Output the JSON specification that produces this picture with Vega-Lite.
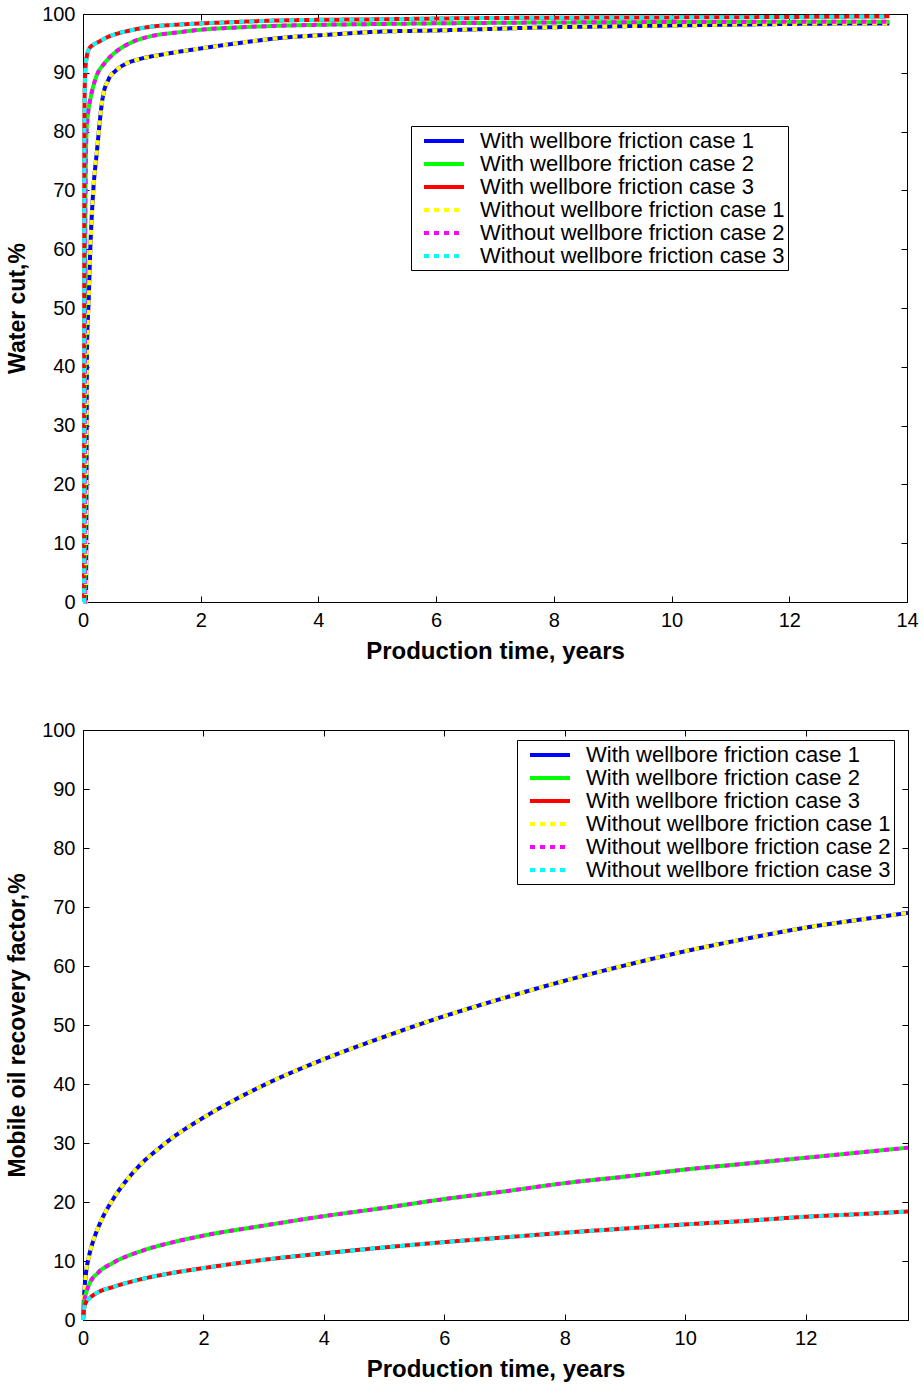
{
  "$schema": "https://vega.github.io/schema/vega-lite/v6.json",
  "background": "white",
  "padding": {"left": 6, "top": 3, "right": 12, "bottom": 5},
  "config": {
    "view": {"stroke": "black", "strokeWidth": 1},
    "axis": {"domainColor": "black", "tickColor": "black", "tickSize": -6, "labelPadding": 14, "labelFontSize": 20, "labelFont": "Liberation Sans", "labelColor": "black", "titleFont": "Liberation Sans", "titleFontSize": 24, "titleFontWeight": "bold", "titleColor": "black", "grid": false, "labelFlush": false, "labelOverlap": false},
    "legend": {"symbolType": "M-2,0H2", "symbolSize": 400, "symbolStrokeWidth": 4, "labelFont": "Liberation Sans", "labelFontSize": 22, "labelLimit": 0, "labelColor": "black", "strokeColor": "black", "fillColor": "white", "padding": 3, "rowPadding": -1, "symbolOffset": 18, "labelOffset": 24, "cornerRadius": 0}
  },
  "datasets": {
    "wc": [
      {"series":"With wellbore friction case 1","t":0,"v":0},{"series":"With wellbore friction case 1","t":0.05,"v":0},{"series":"With wellbore friction case 1","t":0.06,"v":20},{"series":"With wellbore friction case 1","t":0.068,"v":43},{"series":"With wellbore friction case 1","t":0.097,"v":51.5},{"series":"With wellbore friction case 1","t":0.124,"v":60},{"series":"With wellbore friction case 1","t":0.165,"v":68.5},{"series":"With wellbore friction case 1","t":0.24,"v":77},{"series":"With wellbore friction case 1","t":0.33,"v":85.5},{"series":"With wellbore friction case 1","t":0.44,"v":89},{"series":"With wellbore friction case 1","t":0.55,"v":90.3},{"series":"With wellbore friction case 1","t":0.72,"v":91.5},{"series":"With wellbore friction case 1","t":0.95,"v":92.3},{"series":"With wellbore friction case 1","t":1.4,"v":93.2},{"series":"With wellbore friction case 1","t":1.97,"v":94.1},{"series":"With wellbore friction case 1","t":2.53,"v":94.9},{"series":"With wellbore friction case 1","t":3.33,"v":95.9},{"series":"With wellbore friction case 1","t":4.2,"v":96.5},{"series":"With wellbore friction case 1","t":5.03,"v":97.0},{"series":"With wellbore friction case 1","t":6,"v":97.2},{"series":"With wellbore friction case 1","t":6.72,"v":97.4},{"series":"With wellbore friction case 1","t":7.74,"v":97.7},{"series":"With wellbore friction case 1","t":9,"v":97.9},{"series":"With wellbore friction case 1","t":10,"v":98.05},{"series":"With wellbore friction case 1","t":11.14,"v":98.2},{"series":"With wellbore friction case 1","t":12.5,"v":98.35},{"series":"With wellbore friction case 1","t":13.7,"v":98.4},
      {"series":"With wellbore friction case 2","t":0,"v":0},{"series":"With wellbore friction case 2","t":0.03,"v":0},{"series":"With wellbore friction case 2","t":0.033,"v":35},{"series":"With wellbore friction case 2","t":0.037,"v":60},{"series":"With wellbore friction case 2","t":0.045,"v":72},{"series":"With wellbore friction case 2","t":0.06,"v":80},{"series":"With wellbore friction case 2","t":0.09,"v":83.5},{"series":"With wellbore friction case 2","t":0.13,"v":85.8},{"series":"With wellbore friction case 2","t":0.21,"v":88.9},{"series":"With wellbore friction case 2","t":0.38,"v":91.8},{"series":"With wellbore friction case 2","t":0.55,"v":93.5},{"series":"With wellbore friction case 2","t":0.83,"v":95.2},{"series":"With wellbore friction case 2","t":1.1,"v":96.1},{"series":"With wellbore friction case 2","t":1.63,"v":96.9},{"series":"With wellbore friction case 2","t":1.97,"v":97.3},{"series":"With wellbore friction case 2","t":2.6,"v":97.7},{"series":"With wellbore friction case 2","t":3.33,"v":98.0},{"series":"With wellbore friction case 2","t":5.03,"v":98.3},{"series":"With wellbore friction case 2","t":7,"v":98.5},{"series":"With wellbore friction case 2","t":9,"v":98.6},{"series":"With wellbore friction case 2","t":11,"v":98.65},{"series":"With wellbore friction case 2","t":13.7,"v":98.7},
      {"series":"With wellbore friction case 3","t":0,"v":0},{"series":"With wellbore friction case 3","t":0.018,"v":0},{"series":"With wellbore friction case 3","t":0.02,"v":40},{"series":"With wellbore friction case 3","t":0.022,"v":75},{"series":"With wellbore friction case 3","t":0.026,"v":85},{"series":"With wellbore friction case 3","t":0.035,"v":89.5},{"series":"With wellbore friction case 3","t":0.06,"v":92.5},{"series":"With wellbore friction case 3","t":0.1,"v":94},{"series":"With wellbore friction case 3","t":0.18,"v":94.8},{"series":"With wellbore friction case 3","t":0.27,"v":95.3},{"series":"With wellbore friction case 3","t":0.4,"v":96},{"series":"With wellbore friction case 3","t":0.56,"v":96.6},{"series":"With wellbore friction case 3","t":0.8,"v":97.2},{"series":"With wellbore friction case 3","t":1.12,"v":97.8},{"series":"With wellbore friction case 3","t":1.63,"v":98.2},{"series":"With wellbore friction case 3","t":2.5,"v":98.6},{"series":"With wellbore friction case 3","t":3.33,"v":98.9},{"series":"With wellbore friction case 3","t":5.03,"v":99.1},{"series":"With wellbore friction case 3","t":6.72,"v":99.3},{"series":"With wellbore friction case 3","t":9,"v":99.4},{"series":"With wellbore friction case 3","t":11,"v":99.45},{"series":"With wellbore friction case 3","t":13.7,"v":99.6},
      {"series":"Without wellbore friction case 1","t":0,"v":0},{"series":"Without wellbore friction case 1","t":0.05,"v":0},{"series":"Without wellbore friction case 1","t":0.06,"v":20},{"series":"Without wellbore friction case 1","t":0.068,"v":43},{"series":"Without wellbore friction case 1","t":0.097,"v":51.5},{"series":"Without wellbore friction case 1","t":0.124,"v":60},{"series":"Without wellbore friction case 1","t":0.165,"v":68.5},{"series":"Without wellbore friction case 1","t":0.24,"v":77},{"series":"Without wellbore friction case 1","t":0.33,"v":85.5},{"series":"Without wellbore friction case 1","t":0.44,"v":89},{"series":"Without wellbore friction case 1","t":0.55,"v":90.3},{"series":"Without wellbore friction case 1","t":0.72,"v":91.5},{"series":"Without wellbore friction case 1","t":0.95,"v":92.3},{"series":"Without wellbore friction case 1","t":1.4,"v":93.2},{"series":"Without wellbore friction case 1","t":1.97,"v":94.1},{"series":"Without wellbore friction case 1","t":2.53,"v":94.9},{"series":"Without wellbore friction case 1","t":3.33,"v":95.9},{"series":"Without wellbore friction case 1","t":4.2,"v":96.5},{"series":"Without wellbore friction case 1","t":5.03,"v":97.0},{"series":"Without wellbore friction case 1","t":6,"v":97.2},{"series":"Without wellbore friction case 1","t":6.72,"v":97.4},{"series":"Without wellbore friction case 1","t":7.74,"v":97.7},{"series":"Without wellbore friction case 1","t":9,"v":97.9},{"series":"Without wellbore friction case 1","t":10,"v":98.05},{"series":"Without wellbore friction case 1","t":11.14,"v":98.2},{"series":"Without wellbore friction case 1","t":12.5,"v":98.35},{"series":"Without wellbore friction case 1","t":13.7,"v":98.4},
      {"series":"Without wellbore friction case 2","t":0,"v":0},{"series":"Without wellbore friction case 2","t":0.03,"v":0},{"series":"Without wellbore friction case 2","t":0.033,"v":35},{"series":"Without wellbore friction case 2","t":0.037,"v":60},{"series":"Without wellbore friction case 2","t":0.045,"v":72},{"series":"Without wellbore friction case 2","t":0.06,"v":80},{"series":"Without wellbore friction case 2","t":0.09,"v":83.5},{"series":"Without wellbore friction case 2","t":0.13,"v":85.8},{"series":"Without wellbore friction case 2","t":0.21,"v":88.9},{"series":"Without wellbore friction case 2","t":0.38,"v":91.8},{"series":"Without wellbore friction case 2","t":0.55,"v":93.5},{"series":"Without wellbore friction case 2","t":0.83,"v":95.2},{"series":"Without wellbore friction case 2","t":1.1,"v":96.1},{"series":"Without wellbore friction case 2","t":1.63,"v":96.9},{"series":"Without wellbore friction case 2","t":1.97,"v":97.3},{"series":"Without wellbore friction case 2","t":2.6,"v":97.7},{"series":"Without wellbore friction case 2","t":3.33,"v":98.0},{"series":"Without wellbore friction case 2","t":5.03,"v":98.3},{"series":"Without wellbore friction case 2","t":7,"v":98.5},{"series":"Without wellbore friction case 2","t":9,"v":98.6},{"series":"Without wellbore friction case 2","t":11,"v":98.65},{"series":"Without wellbore friction case 2","t":13.7,"v":98.7},
      {"series":"Without wellbore friction case 3","t":0,"v":0},{"series":"Without wellbore friction case 3","t":0.018,"v":0},{"series":"Without wellbore friction case 3","t":0.02,"v":40},{"series":"Without wellbore friction case 3","t":0.022,"v":75},{"series":"Without wellbore friction case 3","t":0.026,"v":85},{"series":"Without wellbore friction case 3","t":0.035,"v":89.5},{"series":"Without wellbore friction case 3","t":0.06,"v":92.5},{"series":"Without wellbore friction case 3","t":0.1,"v":94},{"series":"Without wellbore friction case 3","t":0.18,"v":94.8},{"series":"Without wellbore friction case 3","t":0.27,"v":95.3},{"series":"Without wellbore friction case 3","t":0.4,"v":96},{"series":"Without wellbore friction case 3","t":0.56,"v":96.6},{"series":"Without wellbore friction case 3","t":0.8,"v":97.2},{"series":"Without wellbore friction case 3","t":1.12,"v":97.8},{"series":"Without wellbore friction case 3","t":1.63,"v":98.2},{"series":"Without wellbore friction case 3","t":2.5,"v":98.6},{"series":"Without wellbore friction case 3","t":3.33,"v":98.9},{"series":"Without wellbore friction case 3","t":5.03,"v":99.1},{"series":"Without wellbore friction case 3","t":6.72,"v":99.3},{"series":"Without wellbore friction case 3","t":9,"v":99.4},{"series":"Without wellbore friction case 3","t":11,"v":99.45},{"series":"Without wellbore friction case 3","t":13.7,"v":99.6}
    ],
    "rf": [
      {"series":"With wellbore friction case 1","t":0,"v":0},{"series":"With wellbore friction case 1","t":0.02,"v":4.5},{"series":"With wellbore friction case 1","t":0.05,"v":8},{"series":"With wellbore friction case 1","t":0.1,"v":10.8},{"series":"With wellbore friction case 1","t":0.2,"v":14.3},{"series":"With wellbore friction case 1","t":0.3,"v":16.8},{"series":"With wellbore friction case 1","t":0.5,"v":20.5},{"series":"With wellbore friction case 1","t":0.75,"v":24},{"series":"With wellbore friction case 1","t":1,"v":26.8},{"series":"With wellbore friction case 1","t":1.25,"v":29},{"series":"With wellbore friction case 1","t":1.5,"v":31},{"series":"With wellbore friction case 1","t":2,"v":34.3},{"series":"With wellbore friction case 1","t":3,"v":39.8},{"series":"With wellbore friction case 1","t":4,"v":44.2},{"series":"With wellbore friction case 1","t":5,"v":48},{"series":"With wellbore friction case 1","t":6,"v":51.5},{"series":"With wellbore friction case 1","t":7,"v":54.6},{"series":"With wellbore friction case 1","t":8,"v":57.5},{"series":"With wellbore friction case 1","t":9,"v":60.1},{"series":"With wellbore friction case 1","t":10,"v":62.5},{"series":"With wellbore friction case 1","t":11,"v":64.6},{"series":"With wellbore friction case 1","t":12,"v":66.5},{"series":"With wellbore friction case 1","t":13,"v":68},{"series":"With wellbore friction case 1","t":13.7,"v":69},
      {"series":"With wellbore friction case 2","t":0,"v":0},{"series":"With wellbore friction case 2","t":0.02,"v":3},{"series":"With wellbore friction case 2","t":0.05,"v":4.5},{"series":"With wellbore friction case 2","t":0.1,"v":6},{"series":"With wellbore friction case 2","t":0.25,"v":8},{"series":"With wellbore friction case 2","t":0.5,"v":9.7},{"series":"With wellbore friction case 2","t":1,"v":11.8},{"series":"With wellbore friction case 2","t":1.5,"v":13.2},{"series":"With wellbore friction case 2","t":2,"v":14.3},{"series":"With wellbore friction case 2","t":3,"v":16},{"series":"With wellbore friction case 2","t":4,"v":17.6},{"series":"With wellbore friction case 2","t":5,"v":19},{"series":"With wellbore friction case 2","t":6,"v":20.5},{"series":"With wellbore friction case 2","t":7,"v":21.8},{"series":"With wellbore friction case 2","t":8,"v":23.2},{"series":"With wellbore friction case 2","t":9,"v":24.3},{"series":"With wellbore friction case 2","t":10,"v":25.5},{"series":"With wellbore friction case 2","t":11,"v":26.5},{"series":"With wellbore friction case 2","t":12,"v":27.5},{"series":"With wellbore friction case 2","t":13,"v":28.5},{"series":"With wellbore friction case 2","t":13.7,"v":29.2},
      {"series":"With wellbore friction case 3","t":0,"v":0},{"series":"With wellbore friction case 3","t":0.02,"v":2},{"series":"With wellbore friction case 3","t":0.05,"v":3},{"series":"With wellbore friction case 3","t":0.1,"v":3.6},{"series":"With wellbore friction case 3","t":0.25,"v":4.7},{"series":"With wellbore friction case 3","t":0.5,"v":5.6},{"series":"With wellbore friction case 3","t":1,"v":7},{"series":"With wellbore friction case 3","t":1.5,"v":8},{"series":"With wellbore friction case 3","t":2,"v":8.8},{"series":"With wellbore friction case 3","t":3,"v":10.2},{"series":"With wellbore friction case 3","t":4,"v":11.3},{"series":"With wellbore friction case 3","t":5,"v":12.3},{"series":"With wellbore friction case 3","t":6,"v":13.2},{"series":"With wellbore friction case 3","t":7,"v":14},{"series":"With wellbore friction case 3","t":8,"v":14.8},{"series":"With wellbore friction case 3","t":9,"v":15.5},{"series":"With wellbore friction case 3","t":10,"v":16.2},{"series":"With wellbore friction case 3","t":11,"v":16.8},{"series":"With wellbore friction case 3","t":12,"v":17.5},{"series":"With wellbore friction case 3","t":13,"v":18},{"series":"With wellbore friction case 3","t":13.7,"v":18.4},
      {"series":"Without wellbore friction case 1","t":0,"v":0},{"series":"Without wellbore friction case 1","t":0.02,"v":4.5},{"series":"Without wellbore friction case 1","t":0.05,"v":8},{"series":"Without wellbore friction case 1","t":0.1,"v":10.8},{"series":"Without wellbore friction case 1","t":0.2,"v":14.3},{"series":"Without wellbore friction case 1","t":0.3,"v":16.8},{"series":"Without wellbore friction case 1","t":0.5,"v":20.5},{"series":"Without wellbore friction case 1","t":0.75,"v":24},{"series":"Without wellbore friction case 1","t":1,"v":26.8},{"series":"Without wellbore friction case 1","t":1.25,"v":29},{"series":"Without wellbore friction case 1","t":1.5,"v":31},{"series":"Without wellbore friction case 1","t":2,"v":34.3},{"series":"Without wellbore friction case 1","t":3,"v":39.8},{"series":"Without wellbore friction case 1","t":4,"v":44.2},{"series":"Without wellbore friction case 1","t":5,"v":48},{"series":"Without wellbore friction case 1","t":6,"v":51.5},{"series":"Without wellbore friction case 1","t":7,"v":54.6},{"series":"Without wellbore friction case 1","t":8,"v":57.5},{"series":"Without wellbore friction case 1","t":9,"v":60.1},{"series":"Without wellbore friction case 1","t":10,"v":62.5},{"series":"Without wellbore friction case 1","t":11,"v":64.6},{"series":"Without wellbore friction case 1","t":12,"v":66.5},{"series":"Without wellbore friction case 1","t":13,"v":68},{"series":"Without wellbore friction case 1","t":13.7,"v":69},
      {"series":"Without wellbore friction case 2","t":0,"v":0},{"series":"Without wellbore friction case 2","t":0.02,"v":3},{"series":"Without wellbore friction case 2","t":0.05,"v":4.5},{"series":"Without wellbore friction case 2","t":0.1,"v":6},{"series":"Without wellbore friction case 2","t":0.25,"v":8},{"series":"Without wellbore friction case 2","t":0.5,"v":9.7},{"series":"Without wellbore friction case 2","t":1,"v":11.8},{"series":"Without wellbore friction case 2","t":1.5,"v":13.2},{"series":"Without wellbore friction case 2","t":2,"v":14.3},{"series":"Without wellbore friction case 2","t":3,"v":16},{"series":"Without wellbore friction case 2","t":4,"v":17.6},{"series":"Without wellbore friction case 2","t":5,"v":19},{"series":"Without wellbore friction case 2","t":6,"v":20.5},{"series":"Without wellbore friction case 2","t":7,"v":21.8},{"series":"Without wellbore friction case 2","t":8,"v":23.2},{"series":"Without wellbore friction case 2","t":9,"v":24.3},{"series":"Without wellbore friction case 2","t":10,"v":25.5},{"series":"Without wellbore friction case 2","t":11,"v":26.5},{"series":"Without wellbore friction case 2","t":12,"v":27.5},{"series":"Without wellbore friction case 2","t":13,"v":28.5},{"series":"Without wellbore friction case 2","t":13.7,"v":29.2},
      {"series":"Without wellbore friction case 3","t":0,"v":0},{"series":"Without wellbore friction case 3","t":0.02,"v":2},{"series":"Without wellbore friction case 3","t":0.05,"v":3},{"series":"Without wellbore friction case 3","t":0.1,"v":3.6},{"series":"Without wellbore friction case 3","t":0.25,"v":4.7},{"series":"Without wellbore friction case 3","t":0.5,"v":5.6},{"series":"Without wellbore friction case 3","t":1,"v":7},{"series":"Without wellbore friction case 3","t":1.5,"v":8},{"series":"Without wellbore friction case 3","t":2,"v":8.8},{"series":"Without wellbore friction case 3","t":3,"v":10.2},{"series":"Without wellbore friction case 3","t":4,"v":11.3},{"series":"Without wellbore friction case 3","t":5,"v":12.3},{"series":"Without wellbore friction case 3","t":6,"v":13.2},{"series":"Without wellbore friction case 3","t":7,"v":14},{"series":"Without wellbore friction case 3","t":8,"v":14.8},{"series":"Without wellbore friction case 3","t":9,"v":15.5},{"series":"Without wellbore friction case 3","t":10,"v":16.2},{"series":"Without wellbore friction case 3","t":11,"v":16.8},{"series":"Without wellbore friction case 3","t":12,"v":17.5},{"series":"Without wellbore friction case 3","t":13,"v":18},{"series":"Without wellbore friction case 3","t":13.7,"v":18.4}
    ]
  },
  "spacing": 55,
  "resolve": {"scale": {"color": "independent", "strokeDash": "independent"}, "legend": {"color": "independent", "strokeDash": "independent"}},
  "vconcat": [
    {
      "width": 824, "height": 588,
      "data": {"name": "wc"},
      "layer": [
        {
          "transform": [{"filter": "indexof(datum.series, 'Without') < 0"}],
          "mark": {"type": "line", "strokeWidth": 4, "interpolate": "monotone"},
          "encoding": {
            "x": {"field": "t", "type": "quantitative", "scale": {"domain": [0, 14], "nice": false}, "axis": {"orient": "bottom", "values": [0,2,4,6,8,10,12,14], "title": "Production time, years", "titlePadding": 9}},
            "y": {"field": "v", "type": "quantitative", "scale": {"domain": [0, 100], "nice": false}, "axis": {"orient": "left", "values": [0,10,20,30,40,50,60,70,80,90,100], "title": "Water cut,%", "titlePadding": 12, "titleFontSize": 23}},
            "color": {"field": "series", "type": "nominal", "scale": {"domain": ["With wellbore friction case 1","With wellbore friction case 2","With wellbore friction case 3","Without wellbore friction case 1","Without wellbore friction case 2","Without wellbore friction case 3"], "range": ["#0000ff","#00ff00","#ff0000","#ffff00","#ff00ff","#00ffff"]}, "legend": {"orient": "none", "legendX": 328, "legendY": 112, "title": null}},
            "strokeDash": {"field": "series", "type": "nominal", "scale": {"domain": ["With wellbore friction case 1","With wellbore friction case 2","With wellbore friction case 3","Without wellbore friction case 1","Without wellbore friction case 2","Without wellbore friction case 3"], "range": [[1,0],[1,0],[1,0],[5,5],[5,5],[5,5]]}, "legend": {"orient": "none", "legendX": 328, "legendY": 112, "title": null}}
          }
        },
        {
          "transform": [{"filter": "indexof(datum.series, 'Without') >= 0"}],
          "mark": {"type": "line", "strokeWidth": 4, "interpolate": "monotone"},
          "encoding": {
            "x": {"field": "t", "type": "quantitative", "axis": {"orient": "top", "values": [0,2,4,6,8,10,12,14], "labels": false, "title": null}},
            "y": {"field": "v", "type": "quantitative", "axis": {"orient": "right", "values": [0,10,20,30,40,50,60,70,80,90,100], "labels": false, "title": null}},
            "color": {"field": "series", "type": "nominal"},
            "strokeDash": {"field": "series", "type": "nominal"}
          }
        }
      ],
      "resolve": {"axis": {"x": "independent", "y": "independent"}}
    },
    {
      "width": 825, "height": 590,
      "data": {"name": "rf"},
      "layer": [
        {
          "transform": [{"filter": "indexof(datum.series, 'Without') < 0"}],
          "mark": {"type": "line", "strokeWidth": 4, "interpolate": "monotone"},
          "encoding": {
            "x": {"field": "t", "type": "quantitative", "scale": {"domain": [0, 13.7], "nice": false}, "axis": {"orient": "bottom", "values": [0,2,4,6,8,10,12], "title": "Production time, years", "titlePadding": 9}},
            "y": {"field": "v", "type": "quantitative", "scale": {"domain": [0, 100], "nice": false}, "axis": {"orient": "left", "values": [0,10,20,30,40,50,60,70,80,90,100], "title": "Mobile oil recovery factor,%", "titlePadding": 12, "titleFontSize": 23}},
            "color": {"field": "series", "type": "nominal", "scale": {"domain": ["With wellbore friction case 1","With wellbore friction case 2","With wellbore friction case 3","Without wellbore friction case 1","Without wellbore friction case 2","Without wellbore friction case 3"], "range": ["#0000ff","#00ff00","#ff0000","#ffff00","#ff00ff","#00ffff"]}, "legend": {"orient": "none", "legendX": 434, "legendY": 10, "title": null}},
            "strokeDash": {"field": "series", "type": "nominal", "scale": {"domain": ["With wellbore friction case 1","With wellbore friction case 2","With wellbore friction case 3","Without wellbore friction case 1","Without wellbore friction case 2","Without wellbore friction case 3"], "range": [[1,0],[1,0],[1,0],[5,5],[5,5],[5,5]]}, "legend": {"orient": "none", "legendX": 434, "legendY": 10, "title": null}}
          }
        },
        {
          "transform": [{"filter": "indexof(datum.series, 'Without') >= 0"}],
          "mark": {"type": "line", "strokeWidth": 4, "interpolate": "monotone"},
          "encoding": {
            "x": {"field": "t", "type": "quantitative", "axis": {"orient": "top", "values": [0,2,4,6,8,10,12], "labels": false, "title": null}},
            "y": {"field": "v", "type": "quantitative", "axis": {"orient": "right", "values": [0,10,20,30,40,50,60,70,80,90,100], "labels": false, "title": null}},
            "color": {"field": "series", "type": "nominal"},
            "strokeDash": {"field": "series", "type": "nominal"}
          }
        }
      ],
      "resolve": {"axis": {"x": "independent", "y": "independent"}}
    }
  ]
}
